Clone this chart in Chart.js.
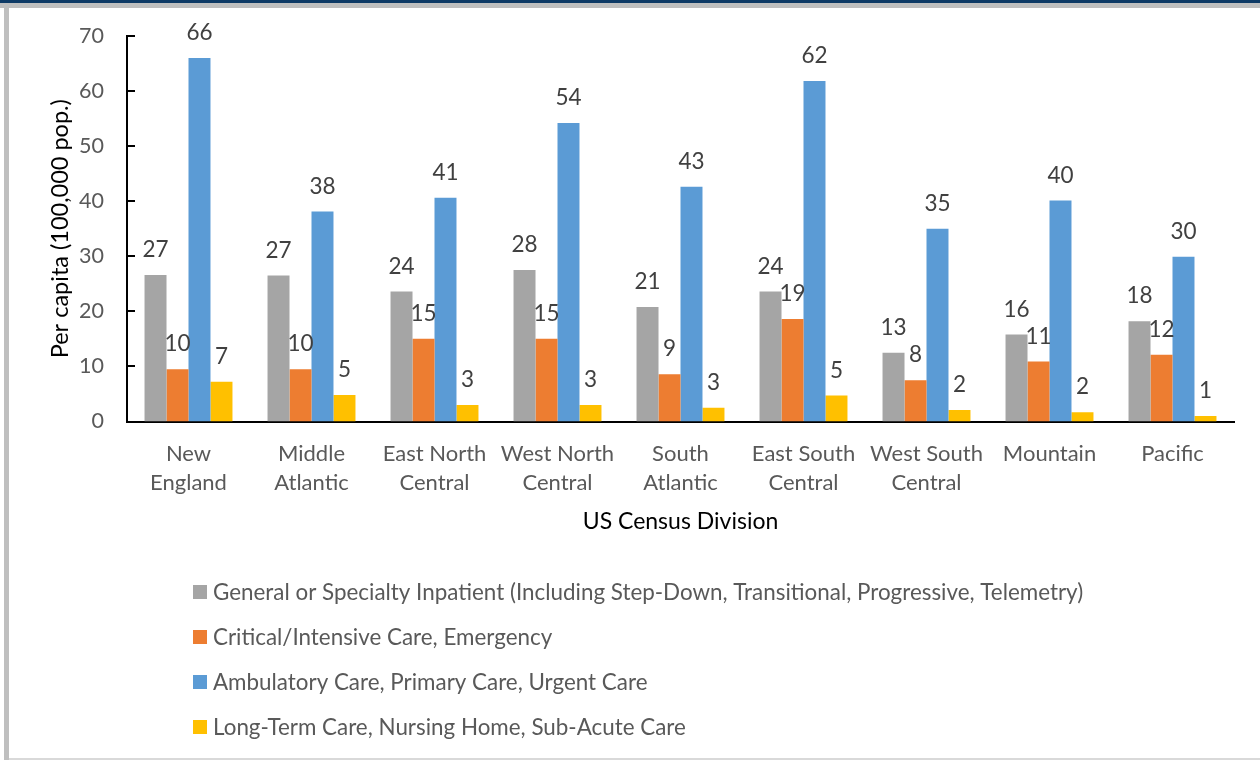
<!DOCTYPE html>
<html><head><meta charset="utf-8">
<script src="https://cdn.jsdelivr.net/npm/chart.js@4/dist/chart.umd.min.js"></script>
<style>
html,body{margin:0;padding:0;background:#fff;width:1260px;height:760px;overflow:hidden}
#topband{position:absolute;left:0;top:0;width:1260px;height:3px;background:#0E3A66}
#grayband{position:absolute;left:0;top:3px;width:1260px;height:5px;background:#BFBFBF}
#leftband{position:absolute;left:4px;top:8px;width:5px;height:752px;background:#BFBFBF}
#bottomline{position:absolute;left:9px;top:758px;width:1251px;height:2px;background:#D9D9D9}
canvas{position:absolute;left:0;top:0}
</style></head>
<body>
<div id="topband"></div><div id="grayband"></div><div id="leftband"></div><div id="bottomline"></div>
<canvas id="c" width="1260" height="760"></canvas>
<script>
const categories = [["New","England"],["Middle","Atlantic"],["East North","Central"],["West North","Central"],["South","Atlantic"],["East South","Central"],["West South","Central"],"Mountain","Pacific"];
const seriesNames = ["General or Specialty Inpatient (Including Step-Down, Transitional, Progressive, Telemetry)","Critical/Intensive Care, Emergency","Ambulatory Care, Primary Care, Urgent Care","Long-Term Care, Nursing Home, Sub-Acute Care"];
const generalInpatient = [26.6, 26.5, 23.6, 27.5, 20.8, 23.6, 12.5, 15.8, 18.2];
const criticalCare     = [9.5, 9.5, 15.0, 15.0, 8.6, 18.6, 7.5, 10.9, 12.1];
const ambulatoryCare   = [66.0, 38.1, 40.6, 54.2, 42.6, 61.8, 35.0, 40.1, 29.9];
const longTermCare     = [7.2, 4.8, 3.0, 3.0, 2.5, 4.7, 2.1, 1.7, 1.0];
const yTicks = [0,10,20,30,40,50,60,70];
const colors = ["#A5A5A5","#ED7D31","#5B9BD5","#FFC000"];
const FONT = "Lato";

const valueLabels = {
  id:'valueLabels',
  afterDatasetsDraw(chart){
    const ctx = chart.ctx; ctx.save();
    ctx.font = '22.5px ' + FONT; ctx.fillStyle = '#404040';
    ctx.textAlign = 'center'; ctx.textBaseline = 'middle';
    chart.data.datasets.forEach((ds,i)=>{
      chart.getDatasetMeta(i).data.forEach((bar,j)=>{
        ctx.fillText(String(Math.round(ds.data[j])), bar.x, bar.y - 25);
      });
    });
    ctx.restore();
  }
};
const innerTicks = {
  id:'innerTicks',
  afterDraw(chart){
    const ctx = chart.ctx, ys = chart.scales.y; ctx.save();
    ctx.strokeStyle = '#000'; ctx.lineWidth = 2;
    ys.ticks.forEach(t=>{
      const py = Math.round(ys.getPixelForValue(t.value));
      ctx.beginPath(); ctx.moveTo(ys.right, py); ctx.lineTo(ys.right + 8, py); ctx.stroke();
    });
    ctx.restore();
  }
};
const legendPlugin = {
  id:'legendList',
  afterDraw(chart){
    const ctx = chart.ctx; ctx.save();
    ctx.font = '22.4px ' + FONT; ctx.textBaseline = 'middle'; ctx.textAlign = 'left';
    chart.data.datasets.forEach((ds,i)=>{
      const cy = 592 + i*45;
      ctx.fillStyle = ds.backgroundColor;
      ctx.fillRect(193, cy - 7, 14, 14);
      ctx.fillStyle = '#595959';
      ctx.fillText(ds.label, 213, cy + 1);
    });
    ctx.restore();
  }
};

const datasets = [generalInpatient, criticalCare, ambulatoryCare, longTermCare].map((d,i)=>({
  label: seriesNames[i], data: d, backgroundColor: colors[i], borderWidth: 0,
  categoryPercentage: 0.715, barPercentage: 1.0
}));

new Chart(document.getElementById('c'), {
  type: 'bar',
  data: { labels: categories, datasets },
  plugins: [valueLabels, innerTicks, legendPlugin],
  options: {
    responsive: false, animation: false, devicePixelRatio: 1,
    layout: { padding: { left: 0, top: 35, right: 26, bottom: 215 } },
    plugins: { legend: { display: false }, tooltip: { enabled: false } },
    scales: {
      x: {
        grid: { display: false, drawTicks: false },
        border: { display: true, color: '#000', width: 2 },
        ticks: { color: '#595959', font: { family: FONT, size: 22, lineHeight: 1.32 }, padding: 18, maxRotation: 0, autoSkip: false },
        title: { display: true, text: 'US Census Division', color: '#000', font: { family: FONT, size: 23 }, padding: { top: 0, bottom: 10 } },
        afterFit(s){ s.height = 123.5; }
      },
      y: {
        min: 0, max: 70,
        afterBuildTicks(s){ s.ticks = yTicks.map(v=>({value:v})); },
        grid: { display: false, drawTicks: false },
        border: { display: true, color: '#000', width: 2 },
        ticks: { color: '#595959', font: { family: FONT, size: 21.5 }, padding: 23 },
        title: { display: true, text: 'Per capita (100,000 pop.)', color: '#000', font: { family: FONT, size: 23.5 }, padding: { top: 46, bottom: 0 } },
        afterFit(s){ s.width = 127; }
      }
    }
  }
});
</script>
</body></html>
